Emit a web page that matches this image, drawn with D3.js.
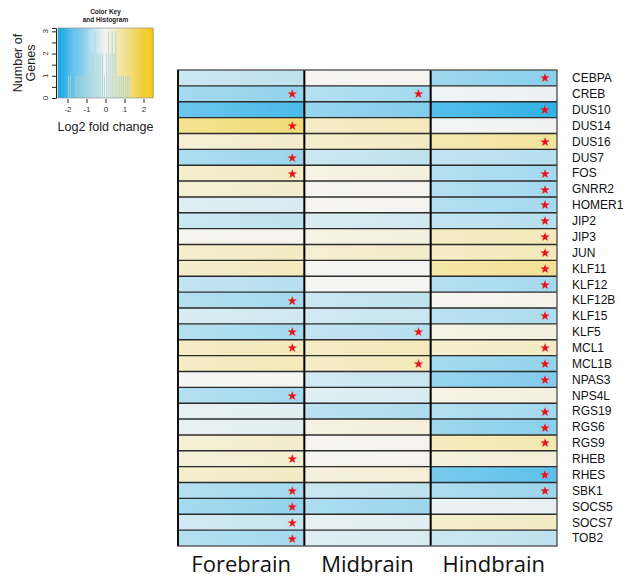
<!DOCTYPE html>
<html>
<head>
<meta charset="utf-8">
<script src="https://cdn.jsdelivr.net/npm/d3@7"></script>
<style>
  body { margin: 0; background: #fff; }
  svg { display: block; font-family: "Liberation Sans", Arial, sans-serif; }
</style>
</head>
<body>
<svg id="viz" width="630" height="580"></svg>
<script>
// ==== Data ====
const genes = ["CEBPA","CREB","DUS10","DUS14","DUS16","DUS7","FOS","GNRR2","HOMER1","JIP2",
  "JIP3","JUN","KLF11","KLF12","KLF12B","KLF15","KLF5","MCL1","MCL1B","NPAS3",
  "NPS4L","RGS19","RGS6","RGS9","RHEB","RHES","SBK1","SOCS5","SOCS7","TOB2"];
const regions = ["Forebrain","Midbrain","Hindbrain"];

// log2 fold change per gene, in region order
const forebrain = [-0.6,-1.1,-1.9,1.3,0.4,-1.0,0.5,0.4,-0.3,-0.6,
  0.05,0.5,0.55,-0.7,-0.9,-0.4,-0.9,0.6,0.6,0.0,
  -0.9,-0.2,-0.2,0.4,0.35,0.5,-0.9,-1.1,-0.5,-0.9];
const midbrain = [0.05,-0.9,-1.3,0.6,0.5,-0.6,0.2,0.05,0.05,-0.4,
  0.2,0.45,0.0,0.0,-0.6,-0.5,-0.7,0.6,0.6,-0.5,
  -0.3,-0.8,0.25,0.05,0.05,0.3,-0.6,-1.0,-0.2,-0.3];
const hindbrain = [-1.2,-0.1,-2.2,-0.05,0.9,-0.7,-0.9,-0.9,-0.9,-0.7,
  0.6,0.6,1.0,-0.9,0.1,-0.8,0.2,0.5,-1.1,-1.3,
  0.2,-0.9,-1.2,0.7,0.3,-1.7,-1.0,-0.15,0.5,-0.6];

// significance stars (1 = starred)
const starF = [0,1,0,1,0,1,1,0,0,0, 0,0,0,0,1,0,1,1,0,0, 1,0,0,0,1,0,1,1,1,1];
const starM = [0,1,0,0,0,0,0,0,0,0, 0,0,0,0,0,0,1,0,1,0, 0,0,0,0,0,0,0,0,0,0];
const starH = [1,0,1,0,1,0,1,1,1,1, 1,1,1,1,0,1,0,1,1,1, 0,1,1,1,0,1,1,0,0,0];

// colour key histogram (bin start, count)
const histStart = [-2.0,-1.9,-1.6,-1.5,-1.4,-1.3,-1.2,-1.1,-1.0,-0.9,-0.8,-0.7,-0.6,-0.5,-0.4,-0.3,-0.2,-0.1,0.0,0.1,0.2,0.3,0.4,0.5,0.6,0.7,0.8,0.9,1.0,1.1,1.2];
const histCount = [1,1,1,1,1,1,1,1,1,1,2,2,3,2,2,2,2,1,2,3,2,3,2,3,1,1,1,1,1,1,1];

const keyTicks = [-2,-1,0,1,2];
const countTicks = [0,1,2,3];

// ==== Layout ====
const svg = d3.select("#viz");
const hm = { x0: 178, x1: 557, y0: 70, y1: 546 };

const x = d3.scaleBand().domain(regions).range([hm.x0, hm.x1]);
const y = d3.scaleBand().domain(genes).range([hm.y0, hm.y1]);
const color = d3.scaleLinear()
  .domain([-2.5, 0, 2.5])
  .range(["#16a8e6", "#f4f4f2", "#f0c508"])
  .clamp(true);

const cols = [forebrain, midbrain, hindbrain];
const stars = [starF, starM, starH];
const cells = [];
regions.forEach((r, j) => genes.forEach((g, i) =>
  cells.push({ region: r, gene: g, v: cols[j][i], star: stars[j][i] })));

// subtle horizontal sheen on each cell
const defs = svg.append("defs");
const grad = defs.append("linearGradient").attr("id", "sheen");
grad.append("stop").attr("offset", "0%").attr("stop-color", "#fff").attr("stop-opacity", 0.18);
grad.append("stop").attr("offset", "100%").attr("stop-color", "#fff").attr("stop-opacity", 0);

const gCells = svg.append("g");
gCells.selectAll("rect.cell").data(cells).join("rect")
  .attr("class", "cell")
  .attr("x", d => x(d.region)).attr("y", d => y(d.gene))
  .attr("width", x.bandwidth()).attr("height", y.bandwidth())
  .attr("fill", d => color(d.v));
gCells.selectAll("rect.sheen").data(cells).join("rect")
  .attr("class", "sheen")
  .attr("x", d => x(d.region)).attr("y", d => y(d.gene))
  .attr("width", x.bandwidth()).attr("height", y.bandwidth())
  .attr("fill", "url(#sheen)");

// row separators
svg.append("g").selectAll("line").data(genes.slice(1)).join("line")
  .attr("x1", hm.x0).attr("x2", hm.x1)
  .attr("y1", d => y(d)).attr("y2", d => y(d))
  .attr("stroke", "#2b2b2b").attr("stroke-width", 1.4);

// column separators
svg.append("g").selectAll("line").data(regions.slice(1)).join("line")
  .attr("x1", d => x(d)).attr("x2", d => x(d))
  .attr("y1", hm.y0).attr("y2", hm.y1)
  .attr("stroke", "#000").attr("stroke-width", 2);

// outer frame
svg.append("rect")
  .attr("x", hm.x0).attr("y", hm.y0)
  .attr("width", hm.x1 - hm.x0).attr("height", hm.y1 - hm.y0)
  .attr("fill", "none").attr("stroke", "#555").attr("stroke-width", 1.4);
svg.append("line")
  .attr("x1", hm.x0).attr("x2", hm.x0).attr("y1", hm.y0).attr("y2", hm.y1)
  .attr("stroke", "#111").attr("stroke-width", 2);

// stars
svg.append("g").selectAll("text").data(cells.filter(d => d.star)).join("text")
  .attr("x", d => x(d.region) + x.bandwidth() - 12)
  .attr("y", d => y(d.gene) + y.bandwidth() / 2)
  .attr("dy", "0.36em")
  .attr("text-anchor", "middle")
  .attr("fill", "#e8141c")
  .attr("font-family", "DejaVu Sans")
  .attr("font-size", 12.5)
  .text("★");

// row labels
svg.append("g").selectAll("text").data(genes).join("text")
  .attr("x", hm.x1 + 15)
  .attr("y", d => y(d) + y.bandwidth() / 2)
  .attr("dy", "0.36em")
  .attr("font-size", 12)
  .attr("fill", "#111")
  .text(d => d);

// column labels
svg.append("g").selectAll("text").data(regions).join("text")
  .attr("x", d => x(d) + x.bandwidth() / 2)
  .attr("y", 572)
  .attr("text-anchor", "middle")
  .attr("font-family", "'Open Sans', 'DejaVu Sans', sans-serif")
  .attr("font-size", 22)
  .attr("fill", "#111")
  .text(d => d);

// ==== Colour key and histogram ====
const key = { x0: 58, x1: 153, y0: 28, y1: 98 };
const kx = d3.scaleLinear().domain([-2.5, 2.5]).range([key.x0, key.x1]);
const ky = d3.scaleLinear().domain([0, 3.15]).range([key.y1, key.y0]);
const gKey = svg.append("g");

const steps = d3.range(-2.5, 2.5, 0.05);
gKey.selectAll("rect.kc").data(steps).join("rect")
  .attr("class", "kc")
  .attr("x", d => kx(d)).attr("y", key.y0)
  .attr("width", kx(0.05) - kx(0) + 0.5).attr("height", key.y1 - key.y0)
  .attr("fill", d => color(d + 0.025));

const hist = histStart.map((s, i) => ({ s, c: histCount[i] }));
gKey.selectAll("rect.hb").data(hist).join("rect")
  .attr("class", "hb")
  .attr("x", d => kx(d.s) + 0.5)
  .attr("width", kx(0.1) - kx(0) - 1)
  .attr("y", d => ky(d.c)).attr("height", d => ky(0) - ky(d.c))
  .attr("fill", "#a6d6d6").attr("opacity", 0.9);

gKey.append("rect")
  .attr("x", key.x0).attr("y", key.y0)
  .attr("width", key.x1 - key.x0).attr("height", key.y1 - key.y0)
  .attr("fill", "none").attr("stroke", "#888").attr("stroke-width", 0.6);

gKey.append("g")
  .attr("transform", `translate(0,${key.y1 + 1})`)
  .call(d3.axisBottom(kx).tickValues(keyTicks).tickSize(4).tickSizeOuter(0).tickFormat(d => String(d)))
  .call(g => g.select(".domain").remove())
  .call(g => g.selectAll("text").attr("font-size", 8).attr("font-family", "'Liberation Sans', Arial").attr("fill", "#333"))
  .call(g => g.selectAll("line").attr("stroke", "#222"));

// count axis with half steps, rotated labels
gKey.append("g")
  .attr("transform", `translate(${key.x0 - 2},0)`)
  .call(d3.axisLeft(ky).tickValues([0, 0.5, 1, 1.5, 2, 2.5, 3]).tickSize(4).tickFormat(""))
  .call(g => g.select(".domain").attr("stroke", "#222"))
  .call(g => g.selectAll("line").attr("stroke", "#222"));
gKey.append("g").selectAll("text").data(countTicks).join("text")
  .attr("transform", d => `translate(${key.x0 - 10},${ky(d)}) rotate(-90)`)
  .attr("text-anchor", "middle")
  .attr("font-size", 8).attr("fill", "#333")
  .text(d => d);

gKey.append("text")
  .attr("x", (key.x0 + key.x1) / 2).attr("y", 14)
  .attr("text-anchor", "middle").attr("font-size", 6.5).attr("font-weight", "bold").attr("fill", "#222")
  .text("Color Key");
gKey.append("text")
  .attr("x", (key.x0 + key.x1) / 2).attr("y", 22)
  .attr("text-anchor", "middle").attr("font-size", 6.5).attr("font-weight", "bold").attr("fill", "#222")
  .text("and Histogram");

gKey.append("text")
  .attr("x", kx(0)).attr("y", 131)
  .attr("text-anchor", "middle").attr("font-size", 12.5).attr("fill", "#222")
  .text("Log2 fold change");

const yl = gKey.append("text")
  .attr("transform", `translate(22,${(key.y0 + key.y1) / 2}) rotate(-90)`)
  .attr("text-anchor", "middle").attr("font-size", 12.5).attr("fill", "#222");
yl.append("tspan").attr("x", 0).attr("y", 0).text("Number of");
yl.append("tspan").attr("x", 0).attr("y", 13).text("Genes");
</script>
</body>
</html>
